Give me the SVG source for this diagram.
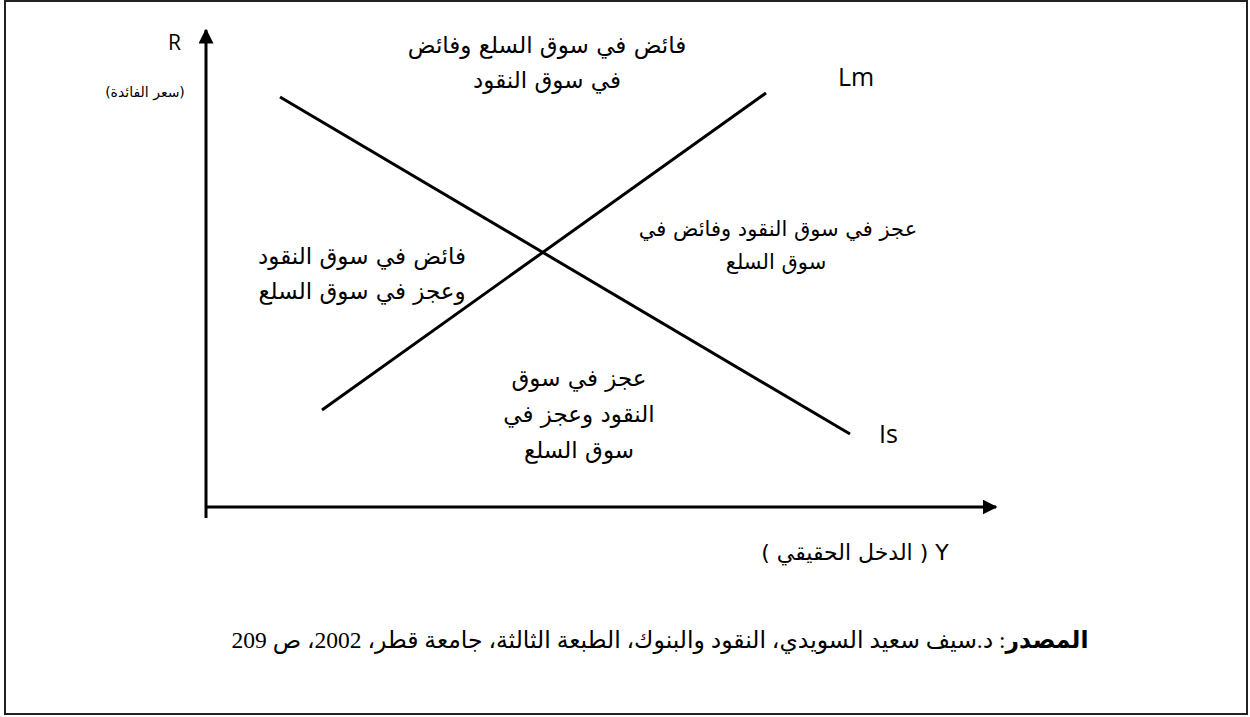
<svg xmlns="http://www.w3.org/2000/svg" width="1250" height="717" viewBox="0 0 1250 717">
<style>
.ar{font-family:"DejaVu Sans",sans-serif;font-size:23px;fill:#000;text-anchor:middle}
.lat{font-family:"Open Sans","DejaVu Sans",sans-serif;font-size:25px;fill:#000}
.src{font-family:"Liberation Serif","DejaVu Serif","DejaVu Sans",serif;font-size:23.5px;fill:#000;text-anchor:middle}
.ln{stroke:#000;stroke-width:3;fill:none}
</style>
<defs>
<marker id="ah" viewBox="0 0 10 10" refX="9" refY="5" markerWidth="5" markerHeight="5" orient="auto" markerUnits="strokeWidth">
<path d="M0,0 L10,5 L0,10 z" fill="#000"/>
</marker>
</defs>
<rect x="5" y="1" width="1242" height="713" fill="#fff" stroke="#222" stroke-width="2"/>
<g id="connectors">
<line id="y-axis" class="ln" x1="206" y1="518" x2="206" y2="30" marker-end="url(#ah)"/>
<line id="x-axis" class="ln" x1="206" y1="507" x2="996" y2="507" marker-end="url(#ah)"/>
<line id="is-curve" class="ln" x1="280" y1="97" x2="850" y2="434"/>
<line id="lm-curve" class="ln" x1="322" y1="410" x2="766" y2="93"/>
</g>
<g id="axis-labels">
<text class="lat" x="168" y="50" style="font-size:21px">R</text>
<text class="ar" x="145" y="97" direction="rtl" style="font-size:14px">(سعر  الفائدة)</text>
<text class="ar" x="855" y="560" direction="rtl" style="font-size:22px">Y ( الدخل الحقيقي )</text>
</g>
<g id="curve-labels">
<text class="lat" x="838" y="86">Lm</text>
<text class="lat" x="879" y="443">Is</text>
</g>
<g id="region-top">
<text class="ar" x="547" y="53" direction="rtl">فائض في سوق السلع وفائض</text>
<text class="ar" x="547" y="88" direction="rtl">في سوق النقود</text>
</g>
<g id="region-left">
<text class="ar" x="362" y="264" direction="rtl">فائض في سوق النقود</text>
<text class="ar" x="362" y="299" direction="rtl">وعجز في سوق السلع</text>
</g>
<g id="region-right">
<text class="ar" x="778" y="236" direction="rtl" style="font-size:21px">عجز في سوق النقود وفائض في</text>
<text class="ar" x="776" y="269" direction="rtl" style="font-size:21px">سوق السلع</text>
</g>
<g id="region-bottom">
<text class="ar" x="579" y="386" direction="rtl">عجز في سوق</text>
<text class="ar" x="579" y="422" direction="rtl">النقود وعجز في</text>
<text class="ar" x="579" y="458" direction="rtl">سوق السلع</text>
</g>
<g id="source">
<text class="src" x="660" y="648" direction="rtl"><tspan font-weight="bold">المصدر</tspan>: د.سيف سعيد السويدي، النقود والبنوك، الطبعة الثالثة، جامعة قطر، 2002، ص 209</text>
</g>
</svg>
